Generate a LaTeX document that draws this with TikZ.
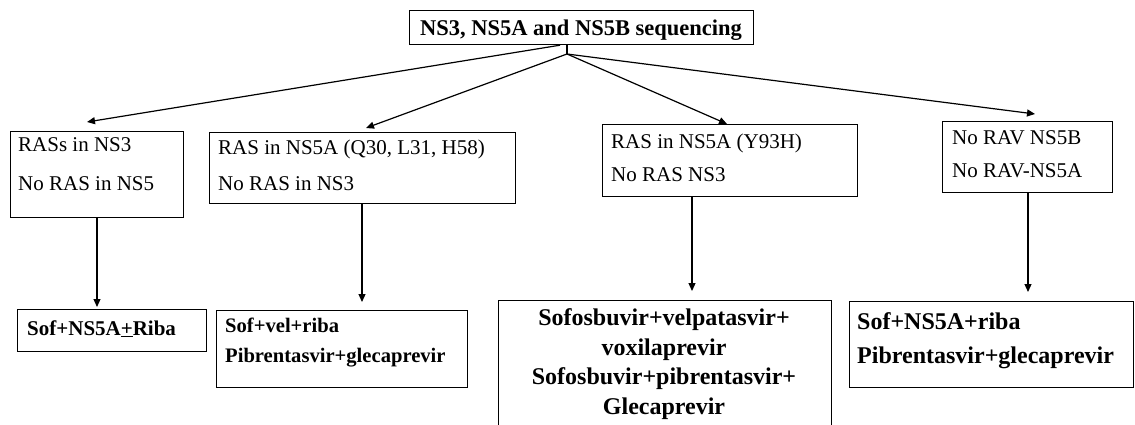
\documentclass[tikz,border=0pt]{standalone}
\usepackage{fontspec}
\setmainfont{Liberation Serif}
\usetikzlibrary{arrows.meta,calc}
\begin{document}
\begin{tikzpicture}[x=1pt,y=-1pt,
  boxst/.style={draw=black,line width=1.2pt,rectangle,anchor=north west,inner sep=0pt,fill=none},
  txt/.style={anchor=base west,inner sep=0pt,font=\fontsize{21}{25}\selectfont},
  btxt/.style={anchor=base west,inner sep=0pt,font=\fontsize{21}{25}\selectfont\bfseries},
  bigtxt/.style={anchor=base,inner sep=0pt,font=\fontsize{24}{28}\selectfont\bfseries},
  conn/.style={line width=1.2pt,-{Triangle[length=8pt,width=7pt]}}]
\useasboundingbox (0,0) rectangle (1135,425);
% top box
\node[boxst,minimum width=344pt,minimum height=34pt] (top) at (409,10) {};
\node[anchor=base,inner sep=0pt,font=\fontsize{22.5}{26}\selectfont\bfseries] (toptxt) at (581,36) {NS3, NS5A and NS5B sequencing};
% middle boxes
\node[boxst,minimum width=173pt,minimum height=86pt] (b1) at (10,131) {};
\node[txt] (b1a) at (18,152) {RASs in NS3};
\node[txt] (b1b) at (18,190) {No RAS in NS5};
\node[boxst,minimum width=306pt,minimum height=71pt] (b2) at (209,132) {};
\node[txt] (b2a) at (218,154) {RAS in NS5A (Q30, L31, H58)};
\node[txt] (b2b) at (218,190) {No RAS in NS3};
\node[boxst,minimum width=255pt,minimum height=72pt] (b3) at (602,124) {};
\node[txt] (b3a) at (611,149) {RAS in NS5A (Y93H)};
\node[txt] (b3b) at (611,182) {No RAS NS3};
\node[boxst,minimum width=170pt,minimum height=71pt] (b4) at (942,121) {};
\node[txt] (b4a) at (952,145) {No RAV NS5B};
\node[txt] (b4b) at (952,177) {No RAV-NS5A};
% bottom boxes
\node[boxst,minimum width=189pt,minimum height=42pt] (c1) at (17,309) {};
\node[btxt] (c1a) at (27,335) {Sof+NS5A\underline{+}Riba};
\node[boxst,minimum width=251pt,minimum height=77pt] (c2) at (216,310) {};
\node[btxt,font=\fontsize{20.6}{25}\selectfont\bfseries] (c2a) at (225,332) {Sof+vel+riba};
\node[btxt,font=\fontsize{20.6}{25}\selectfont\bfseries] (c2b) at (225,362) {Pibrentasvir+glecaprevir};
\node[boxst,minimum width=333pt,minimum height=135pt] (c3) at (498,300) {};
\node[bigtxt] (c3a) at (664,325) {Sofosbuvir+velpatasvir+};
\node[bigtxt] (c3b) at (664,355) {voxilaprevir};
\node[bigtxt] (c3c) at (664,384) {Sofosbuvir+pibrentasvir+};
\node[bigtxt] (c3d) at (664,414) {Glecaprevir};
\node[boxst,minimum width=284pt,minimum height=86pt] (c4) at (849,301) {};
\node[bigtxt,anchor=base west] (c4a) at (857,329) {Sof+NS5A+riba};
\node[bigtxt,anchor=base west] (c4b) at (857,363) {Pibrentasvir+glecaprevir};
% connectors
\coordinate (hub) at (567,54);
\draw[conn] ($(top.south west)+(151,0)$) -- ($(b1.north west)+(77,-9)$);
\draw[line width=1.2pt] ($(top.south west)+(158,0)$) -- (hub);
\draw[conn] (hub) -- ($(b2.north west)+(157,-4)$);
\draw[conn] (hub) -- ($(b3.north west)+(125,0)$);
\draw[conn] (hub) -- ($(b4.north west)+(93,-7)$);
\draw[conn] ($(b1.south west)+(87,0)$) -- ($(c1.north west)+(80,-2)$);
\draw[conn] ($(b2.south west)+(153,0)$) -- ($(c2.north west)+(146,-8)$);
\draw[conn] ($(b3.south west)+(90,0)$) -- ($(c3.north west)+(194,-9)$);
\draw[conn] ($(b4.south west)+(86,0)$) -- ($(c4.north west)+(179,-9)$);
\end{tikzpicture}
\end{document}
